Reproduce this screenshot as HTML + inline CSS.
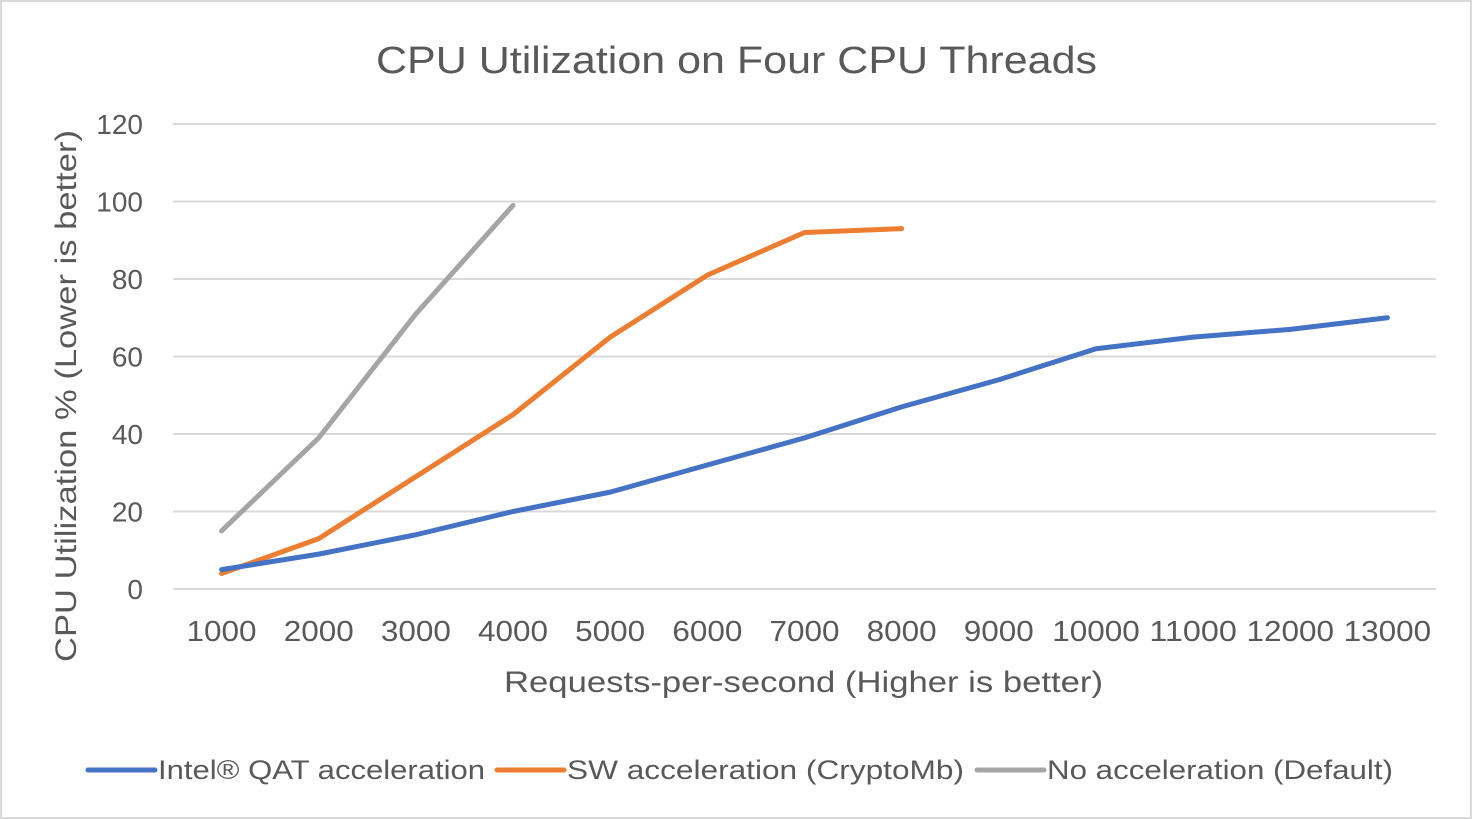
<!DOCTYPE html>
<html><head><meta charset="utf-8"><style>
html,body{margin:0;padding:0;background:#fff;}
svg{display:block;font-family:"Liberation Sans",sans-serif;}
</style></head><body>
<svg id="chart" width="1472" height="819" viewBox="0 0 1472 819">
<rect x="1" y="1" width="1470" height="817" fill="#fff" stroke="#d9d9d9" stroke-width="2"/>
<text x="376" y="73" font-size="38" fill="#595959" textLength="721" lengthAdjust="spacingAndGlyphs">CPU Utilization on Four CPU Threads</text>
<g id="grid"></g>
<g id="yticks"></g>
<g id="xticks"></g>
<g id="series"></g>
<text transform="translate(76,662) rotate(-90)" font-size="30" fill="#595959" textLength="532" lengthAdjust="spacingAndGlyphs">CPU Utilization % (Lower is better)</text>
<text x="504" y="692" font-size="30" fill="#595959" textLength="599" lengthAdjust="spacingAndGlyphs">Requests-per-second (Higher is better)</text>
<g>
<g><line x1="88" y1="770" x2="155" y2="770" stroke="#4472c4" stroke-width="5" stroke-linecap="round"/><text x="158" y="779" font-size="27" fill="#595959" textLength="327" lengthAdjust="spacingAndGlyphs">Intel® QAT acceleration</text></g>
<g><line x1="497" y1="770" x2="564" y2="770" stroke="#ed7d31" stroke-width="5" stroke-linecap="round"/><text x="567" y="779" font-size="27" fill="#595959" textLength="397" lengthAdjust="spacingAndGlyphs">SW acceleration (CryptoMb)</text></g>
<g><line x1="977" y1="770" x2="1044" y2="770" stroke="#a5a5a5" stroke-width="5" stroke-linecap="round"/><text x="1047" y="779" font-size="27" fill="#595959" textLength="346" lengthAdjust="spacingAndGlyphs">No acceleration (Default)</text></g>
</g>
</svg>
<script>
const categories=["1000","2000","3000","4000","5000","6000","7000","8000","9000","10000","11000","12000","13000"];
const yTicks=[0,20,40,60,80,100,120];
const qatValues=[5,9,14,20,25,32,39,47,54,62,65,67,70];
const swValues=[4,13,29,45,65,81,92,93];
const defaultValues=[15,39,71,99];
const NS="http://www.w3.org/2000/svg";
const plotL=173,plotR=1436,y0=589,y120=124;
const step=(plotR-plotL)/categories.length;
function xs(i){return plotL+step*(i+0.5);}
function ys(v){return y0-(v/120)*(y0-y120);}
const grid=document.getElementById('grid'),yt=document.getElementById('yticks'),xt=document.getElementById('xticks'),ser=document.getElementById('series');
yTicks.forEach(v=>{
const l=document.createElementNS(NS,'line');
l.setAttribute('x1',plotL);l.setAttribute('x2',plotR);l.setAttribute('y1',ys(v));l.setAttribute('y2',ys(v));
l.setAttribute('stroke','#d9d9d9');l.setAttribute('stroke-width','2');


grid.appendChild(l);
const t=document.createElementNS(NS,'text');
t.setAttribute('x',143);t.setAttribute('y',ys(v)+10);t.setAttribute('text-anchor','end');t.setAttribute('font-size','28');t.setAttribute('fill','#595959');
t.textContent=v;


yt.appendChild(t);
});
categories.forEach((c,i)=>{
const t=document.createElementNS(NS,'text');
t.setAttribute('x',xs(i));t.setAttribute('y',641);t.setAttribute('text-anchor','middle');t.setAttribute('font-size','29');t.setAttribute('fill','#595959');
t.setAttribute('textLength',c.length*17.5);t.setAttribute('lengthAdjust','spacingAndGlyphs');
t.textContent=c;


xt.appendChild(t);
});
function line(vals,color,name){
const p=document.createElementNS(NS,'polyline');
p.setAttribute('points',vals.map((v,i)=>xs(i)+','+ys(v)).join(' '));
p.setAttribute('fill','none');p.setAttribute('stroke',color);p.setAttribute('stroke-width','5');p.setAttribute('stroke-linejoin','round');p.setAttribute('stroke-linecap','round');


ser.appendChild(p);
}
line(defaultValues,'#a5a5a5','default-line');
line(swValues,'#ed7d31','sw-acceleration-line');
line(qatValues,'#4472c4','qat-acceleration-line');
</script>
</body></html>
